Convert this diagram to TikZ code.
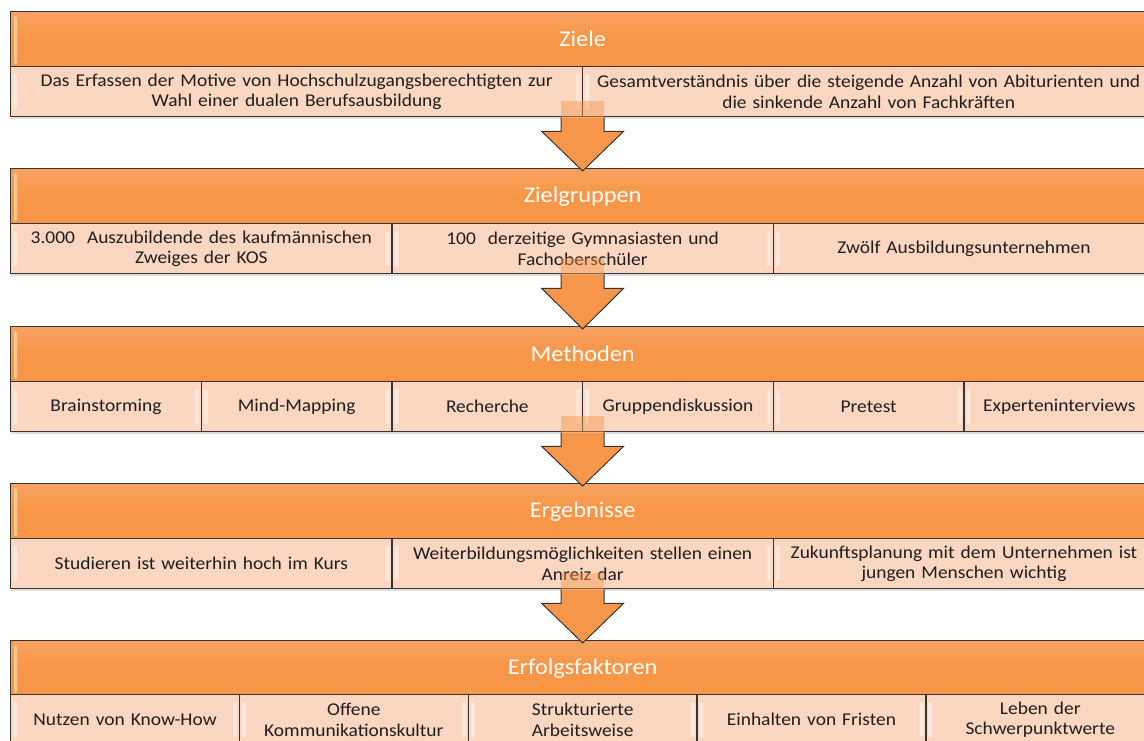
\documentclass[tikz,border=0pt]{standalone}
\usepackage{fontspec}
\setmainfont{Carlito}[FakeStretch=1.08]
\usetikzlibrary{calc,shadows}
\definecolor{hdr}{HTML}{F79646}
\definecolor{hdrlight}{HTML}{F8A262}
\definecolor{subc}{HTML}{FBD6C0}
\definecolor{linec}{HTML}{353535}
\definecolor{txt}{HTML}{1E1E1E}
\definecolor{arrowc}{HTML}{F5964A}
\definecolor{glintc}{HTML}{FFE9B8}
\newcommand\celltextfont{\fontsize{18}{20.5}\selectfont\spaceskip=0.2em plus 0.05em minus 0.05em\relax}
\tikzset{
  hdrbox/.style={draw=linec, line width=1.3pt, top color=hdrlight, bottom color=hdr, middle color=hdr,
    minimum width=1144pt, minimum height=55pt, inner sep=0pt, anchor=north west,
    text=white, font=\fontsize{22.5}{25}\selectfont,
    drop shadow={opacity=0.25, shadow xshift=0.5pt, shadow yshift=-2pt}},
  cellbox/.style={draw=linec, line width=1.3pt, fill=subc, minimum height=50pt, inner sep=0pt,
    anchor=north west, align=center, text=txt, font=\celltextfont,
    drop shadow={opacity=0.25, shadow xshift=0.5pt, shadow yshift=-2pt}},
  ctwo/.style={cellbox, minimum width=572pt, text width=566pt},
  cthree/.style={cellbox, minimum width=381.33pt, text width=376pt},
  cfive/.style={cellbox, minimum width=228.8pt, text width=224pt},
  csix/.style={cellbox, minimum width=190.67pt, text width=186pt},
  flowfill/.style={fill=arrowc},
  flowline/.style={draw=linec, line width=1pt, line join=miter},
  shaftglow/.style={fill=arrowc, fill opacity=0.45},
  glint/.style={fill=white, fill opacity=0.45, rounded corners=2pt},
  hglint/.style={fill=glintc, fill opacity=0.6, rounded corners=1.5pt}
}
\begin{document}
\begin{tikzpicture}[x=1pt,y=-1pt]
\path[use as bounding box] (0,0) rectangle (1144,740);

% Row 1
\node[hdrbox] (h1) at (10,11) {Ziele};
\node[ctwo] (c11) at (10,66) {Das Erfassen der Motive von Hochschulzugangsberechtigten zur\\Wahl einer dualen Berufsausbildung};
\node[ctwo] (c12) at (582,66) {Gesamtverständnis über die steigende Anzahl von Abiturienten und\\die sinkende Anzahl von Fachkräften};

% Row 2
\node[hdrbox] (h2) at (10,168) {Zielgruppen};
\node[cthree] (c21) at (10,223) {3.000\ \ Auszubildende des kaufmännischen\\Zweiges der KOS};
\node[cthree] (c22) at (391.33,223) {100\ \ derzeitige Gymnasiasten und\\Fachoberschüler};
\node[cthree] (c23) at (772.67,223) {Zwölf Ausbildungsunternehmen};

% Row 3
\node[hdrbox] (h3) at (10,326) {Methoden};
\node[csix] (c31) at (10,381) {Brainstorming};
\node[csix] (c32) at (200.67,381) {Mind-Mapping};
\node[csix] (c33) at (391.33,381) {Recherche};
\node[csix] (c34) at (582,381) {Gruppendiskussion};
\node[csix] (c35) at (772.67,381) {Pretest};
\node[csix] (c36) at (963.33,381) {Experteninterviews};

% Row 4
\node[hdrbox] (h4) at (10,483) {Ergebnisse};
\node[cthree] (c41) at (10,538) {Studieren ist weiterhin hoch im Kurs};
\node[cthree] (c42) at (391.33,538) {Weiterbildungsmöglichkeiten stellen einen\\Anreiz dar};
\node[cthree] (c43) at (772.67,538) {Zukunftsplanung mit dem Unternehmen ist\\jungen Menschen wichtig};

% Row 5
\node[hdrbox] (h5) at (10,640) {Erfolgsfaktoren};
\node[cfive] (c51) at (10,694) {Nutzen von Know-How};
\node[cfive] (c52) at (238.8,694) {Offene\\Kommunikationskultur};
\node[cfive] (c53) at (467.6,694) {Strukturierte\\Arbeitsweise};
\node[cfive] (c54) at (696.4,694) {Einhalten von Fristen};
\node[cfive] (c55) at (925.2,694) {Leben der\\Schwerpunktwerte};

% glossy highlights on headers and cells
\foreach \h in {h1,h2,h3,h4,h5}{
  \fill[hglint] ($(\h.north west)+(4,5)$) rectangle ($(\h.south west)+(7,-3)$);
}
\foreach \c in {c11,c12,c21,c22,c23,c31,c32,c33,c34,c35,c36,c41,c42,c43,c51,c52,c53,c54,c55}{
  \fill[glint] ($(\c.north west)+(3,8)$) rectangle ($(\c.south west)+(7,-8)$);
  \fill[glint] ($(\c.north east)+(-7,8)$) rectangle ($(\c.south east)+(-3,-8)$);
}

% Arrows between rows
\foreach \a/\b in {h1/h2, h2/h3, h3/h4, h4/h5}{
  \coordinate (s) at ($(\a.south)+(0,50)$);
  \fill[shaftglow] ($(s)+(-21.5,-16)$) rectangle ($(s)+(21.5,0)$);
  \fill[flowfill] ($(s)+(-21.5,0)$) -- ($(s)+(21.5,0)$) -- ($(s)+(21.5,14)$) -- ($(s)+(41,14)$)
     -- ($(\b.north)+(0,3)$) -- ($(s)+(-41,14)$) -- ($(s)+(-21.5,14)$) -- cycle;
  \draw[flowline] ($(s)+(-21.5,0)$) -- ($(s)+(-21.5,14)$) -- ($(s)+(-41,14)$)
     -- ($(\b.north)+(0,3)$) -- ($(s)+(41,14)$) -- ($(s)+(21.5,14)$) -- ($(s)+(21.5,0)$);
}
\end{tikzpicture}
\end{document}
